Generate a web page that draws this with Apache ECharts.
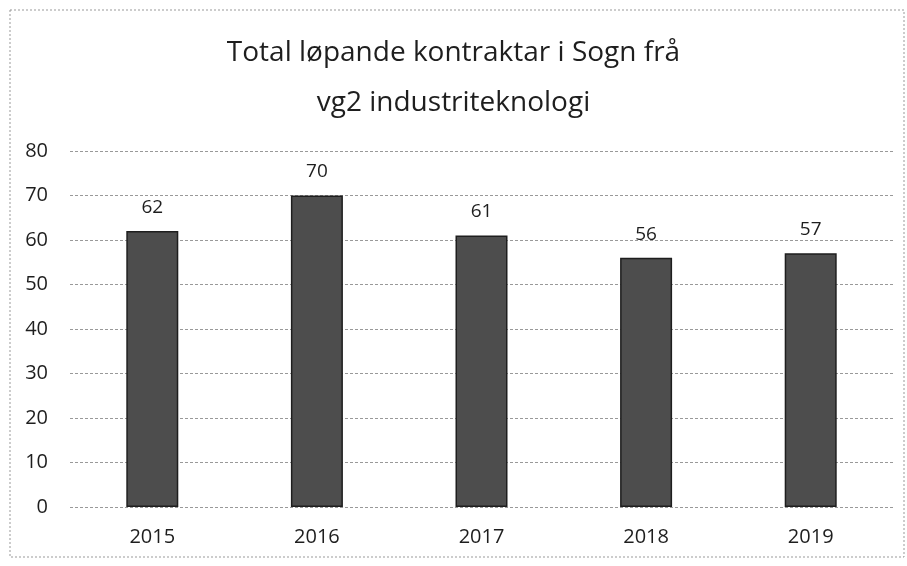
<!DOCTYPE html>
<html lang="nn">
<head>
    <meta charset="utf-8">
    <title>Total løpande kontraktar i Sogn frå vg2 industriteknologi</title>
    <script src="https://cdn.jsdelivr.net/npm/echarts@6/dist/echarts.min.js"></script>
    <style>
        html, body { margin: 0; padding: 0; background: #fff; }
        #main { width: 907px; height: 566px; }
    </style>
</head>
<body>
    <div id="main"></div>
    <script>
        var years = ['2015', '2016', '2017', '2018', '2019'];
        var contracts = [62, 70, 61, 56, 57];

        var myChart = echarts.init(document.getElementById('main'));
        myChart.setOption({
            backgroundColor: '#fff',
            textStyle: { fontFamily: 'Open Sans, Liberation Sans, sans-serif' },
            title: {
                text: 'Total løpande kontraktar i Sogn frå\nvg2 industriteknologi',
                left: 'center',
                top: 23,
                textStyle: {
                    fontSize: 28,
                    fontWeight: 'normal',
                    color: '#1e1e1e',
                    lineHeight: 50,
                    fontFamily: 'Open Sans, Liberation Sans, sans-serif'
                }
            },
            // dotted frame round the chart
            graphic: [{
                type: 'rect',
                shape: { x: 10, y: 10, width: 894, height: 547 },
                style: { fill: 'none', stroke: '#999', lineWidth: 1, lineDash: [2, 2] }
            }],
            grid: { left: 70, right: 14, top: 151, bottom: 59 },
            xAxis: {
                type: 'category',
                data: years,
                axisLine: { show: false },
                axisTick: { show: false },
                axisLabel: { fontSize: 20, color: '#1e1e1e', margin: 20 }
            },
            yAxis: {
                type: 'value',
                min: 0,
                max: 80,
                interval: 10,
                axisLabel: { fontSize: 20, color: '#1e1e1e', margin: 22 },
                splitLine: { lineStyle: { color: '#999', type: [3, 2], width: 1 } }
            },
            series: [{
                type: 'bar',
                data: contracts,
                barWidth: 52,
                itemStyle: { color: '#4d4d4d', borderColor: '#1e1e1e', borderWidth: 1.5 },
                label: {
                    show: true,
                    position: 'top',
                    distance: 14,
                    fontSize: 19,
                    color: '#1e1e1e'
                }
            }]
        });
        window.onresize = myChart.resize;
    </script>
</body>
</html>
